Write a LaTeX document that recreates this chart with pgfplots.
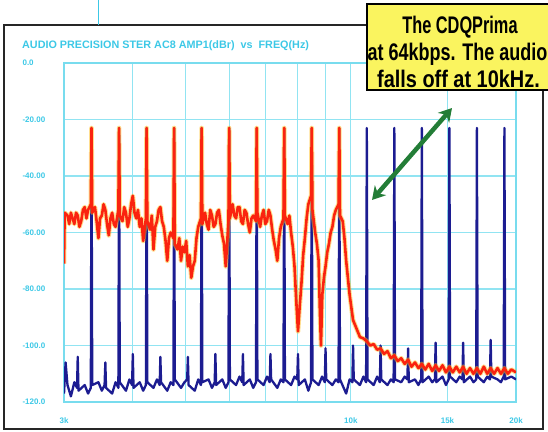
\documentclass[border=0pt]{standalone}
\usepackage{fontspec}
\setmainfont{Liberation Sans}
\usepackage{graphicx}
\usepackage{pgfplots}
\pgfplotsset{compat=1.18}
\usepackage{pgfplotstable}
\usetikzlibrary{arrows.meta}

\definecolor{apcyan}{RGB}{60,200,230}
\definecolor{gridcyan}{RGB}{145,228,242}
\definecolor{tblue}{RGB}{28,28,145}
\definecolor{tred}{RGB}{250,35,15}
\definecolor{halo}{RGB}{255,190,30}
\definecolor{callout}{RGB}{250,244,95}
\definecolor{arrowgreen}{RGB}{35,125,55}

% AMPL (dBr) vs FREQ (Hz), reference trace
\pgfplotstableread{
f db
3000 -117
3020 -106
3044 -114
3088 -118
3133 -113
3168 -115
3178 -104
3188 -116
3272 -114
3319 -117
3357 -115
3367 -23
3377 -114
3466 -113
3516 -116
3557 -114
3568 -106
3579 -115
3672 -117
3725 -113
3769 -115
3780 -23
3791 -113
3891 -116
3948 -112
3992 -114
4004 -103
4016 -115
4122 -113
4182 -116
4230 -114
4243 -23
4256 -113
4367 -115
4431 -112
4482 -114
4495 -104
4508 -113
4627 -116
4694 -113
4748 -114
4762 -23
4776 -112
4902 -115
4973 -113
5030 -112
5045 -104
5060 -114
5193 -116
5269 -112
5329 -114
5345 -23
5361 -113
5502 -112
5582 -115
5646 -113
5663 -103
5680 -114
5829 -112
5914 -115
5982 -113
6000 -23
6018 -112
6176 -114
6266 -111
6338 -113
6357 -103
6376 -114
6543 -112
6638 -115
6715 -113
6735 -23
6755 -112
6932 -114
7033 -111
7114 -113
7135 -103
7156 -112
7344 -115
7451 -112
7536 -113
7559 -23
7582 -112
7781 -114
7894 -111
7985 -112
8009 -103
8033 -114
8244 -112
8364 -116
8460 -113
8485 -23
8510 -112
8734 -114
8861 -111
8963 -113
8990 -101
9017 -112
9253 -114
9388 -112
9495 -113
9524 -23
9553 -112
9803 -117
9946 -112
10061 -113
10091 -100
10121 -112
10387 -114
10538 -111
10659 -113
10691 -23
10723 -112
11004 -114
11164 -111
11293 -113
11327 -100
11361 -112
11658 -114
11828 -112
11964 -113
12000 -23
12036 -112
12352 -113
12532 -111
12676 -112
12714 -101
12752 -113
13086 -112
13276 -114
13429 -112
13469 -23
13509 -113
13864 -111
14066 -113
14227 -112
14270 -99
14313 -113
14689 -111
14903 -114
15074 -112
15119 -23
15164 -111
15562 -113
15788 -111
15970 -112
16018 -99
16066 -113
16487 -111
16727 -113
16920 -112
16971 -23
17022 -111
17468 -113
17722 -111
17926 -112
17980 -98
18034 -111
18506 -112
18775 -113
18992 -111
19049 -23
19106 -112
19607 -111
20000 -112
}\bluedata

% CDQPrima at 64kbps
\pgfplotstableread{
f db
3000 -71
3008 -53
3044 -54
3066 -57
3088 -53
3110 -55
3133 -57
3155 -53
3178 -54
3200 -58
3224 -56
3248 -52
3272 -51
3296 -55
3319 -52
3357 -50
3367 -23
3377 -53
3416 -51
3440 -56
3466 -62
3490 -55
3516 -54
3542 -50
3568 -52
3594 -57
3620 -61
3646 -55
3672 -53
3698 -57
3725 -58
3769 -52
3780 -23
3791 -54
3835 -56
3863 -51
3891 -53
3920 -58
3948 -55
3976 -50
4004 -47
4033 -53
4062 -55
4092 -52
4122 -58
4152 -55
4182 -63
4230 -55
4243 -23
4256 -56
4305 -59
4336 -54
4367 -66
4399 -58
4431 -56
4463 -52
4495 -51
4527 -56
4560 -58
4594 -63
4627 -70
4660 -62
4694 -60
4748 -62
4762 -23
4776 -64
4831 -66
4866 -62
4902 -70
4937 -65
4973 -67
5009 -63
5045 -72
5081 -68
5118 -76
5155 -72
5193 -70
5231 -62
5269 -58
5329 -55
5345 -23
5361 -57
5423 -53
5462 -57
5502 -59
5542 -52
5582 -54
5622 -58
5663 -57
5704 -53
5745 -52
5787 -57
5829 -61
5871 -64
5914 -72
5982 -56
6000 -23
6018 -55
6087 -50
6131 -54
6176 -55
6221 -51
6266 -51
6311 -56
6357 -57
6403 -52
6449 -53
6496 -57
6543 -60
6590 -55
6638 -54
6715 -56
6735 -23
6755 -53
6833 -58
6882 -54
6932 -52
6982 -57
7033 -56
7084 -52
7135 -54
7187 -59
7239 -63
7291 -66
7344 -70
7397 -62
7451 -58
7536 -55
7559 -23
7582 -54
7669 -57
7725 -54
7781 -60
7837 -65
7894 -72
7951 -84
8009 -95
8067 -86
8126 -78
8185 -68
8244 -62
8304 -55
8364 -50
8460 -47
8485 -23
8510 -52
8608 -60
8671 -64
8734 -70
8780 -88
8820 -100
8870 -82
8930 -76
8990 -72
9055 -67
9120 -64
9186 -60
9253 -58
9320 -54
9388 -52
9495 -50
9524 -23
9553 -54
9663 -56
9733 -62
9803 -70
9946 -82
10091 -91
10238 -94
10387 -97
10538 -97.5
10691 -98.5
10847 -100
11004 -99.5
11164 -101.5
11327 -101
11492 -103
11658 -102
11828 -104.5
12000 -103.5
12174 -105.5
12352 -104.5
12532 -106.5
12714 -105
12899 -107.5
13086 -106
13276 -108
13469 -106.5
13665 -108.5
13864 -106.5
14066 -109
14270 -107
14478 -109
14689 -107
14903 -109.5
15119 -107.5
15339 -109.5
15562 -107.5
15788 -109.5
16018 -107.5
16251 -110
16487 -108
16727 -110
16971 -108
17218 -110
17468 -107.5
17722 -110
17980 -108
18241 -110
18506 -108
18775 -110
19049 -108
19326 -110
19607 -108.5
20000 -109.5
}\reddata

\begin{document}
\begin{tikzpicture}
\path[use as bounding box] (0pt,0pt) rectangle (548pt,-431pt);

% page frame
\draw[black!85, line width=2pt] (367pt,-25pt) -- (4pt,-25pt) -- (4pt,-429pt) -- (543pt,-429pt) -- (543pt,-90pt);
\draw[apcyan, line width=1pt] (98pt,0pt) -- (98pt,-25pt);

\node[anchor=base west, inner sep=0pt, text=apcyan, font=\bfseries\fontsize{10.8}{12}\selectfont]
  at (22pt,-48pt) {AUDIO PRECISION STER AC8 AMP1(dBr) \ vs \ FREQ(Hz)};

\begin{axis}[
  at={(64pt,-63pt)}, anchor=north west,
  scale only axis,
  width=452pt, height=339pt,
  xmode=log,
  xmin=3000, xmax=20000,
  ymin=-120, ymax=0,
  xtick={3000,4000,5000,6000,7000,8000,9000,10000,15000,20000},
  xticklabels={3k,,,,,,,10k,15k,20k},
  ytick={-120,-100,-80,-60,-40,-20,0},
  yticklabels={-120.0,-100.0,-80.00,-60.00,-40.00,-20.00,0.0},
  minor tick num=0,
  grid=major,
  major grid style={gridcyan, line width=1.2pt},
  axis line style={gridcyan!70!apcyan, line width=1.4pt},
  major tick length=0pt,
  tick label style={text=apcyan, font=\bfseries\fontsize{8}{9}\selectfont},
  yticklabel style={anchor=west, xshift=-45pt},
  xticklabel style={yshift=-12pt},
]
\addplot[tblue, line width=2.3pt, line join=round] table[x=f, y=db] {\bluedata};
\addplot[halo, opacity=0.5, line width=4.6pt, line join=round] table[x=f, y=db] {\reddata};
\addplot[tred, line width=2.6pt, line join=round] table[x=f, y=db] {\reddata};
\end{axis}

% callout
\draw[black, line width=1.5pt, fill=callout] (367pt,-4pt) rectangle (552pt,-90pt);
\begin{scope}[every node/.style={anchor=base, inner sep=0pt, font=\bfseries\fontsize{24}{27}\selectfont}]
\node at (460pt,-33pt) {\scalebox{0.68}[1]{The CDQPrima}};
\node at (457.5pt,-60pt) {\scalebox{0.75}[1]{at 64kbps. The audio}};
\node at (458.5pt,-87pt) {\scalebox{0.83}[1]{falls off at 10kHz.}};
\end{scope}

\draw[arrowgreen, line width=4.5pt,
  {Stealth[length=13pt, width=15pt]}-{Stealth[length=13pt, width=15pt]}]
  (372pt,-200pt) -- (452pt,-108pt);
\end{tikzpicture}
\end{document}
